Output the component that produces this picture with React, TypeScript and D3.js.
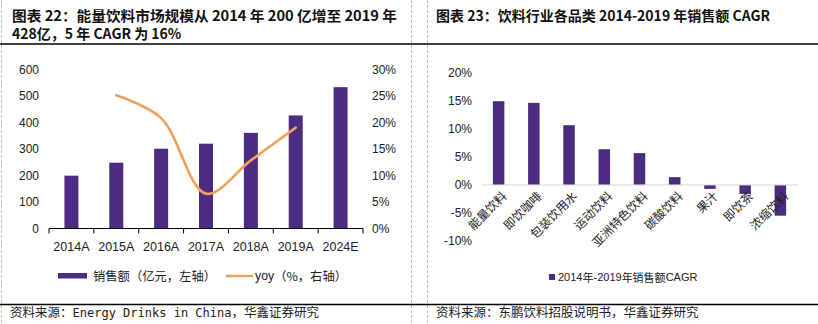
import React from "react";
import * as d3 from "d3";

const years = ["2014A", "2015A", "2016A", "2017A", "2018A", "2019A", "2024E"];
const sales = [200, 249, 302, 321, 362, 428, 535];
const yoyYears = ["2015A", "2016A", "2017A", "2018A", "2019A"];
const yoy = [25.2, 20.9, 6.6, 12.9, 19.1];
const leftTicks = [0, 100, 200, 300, 400, 500, 600];
const rightTicks = [0, 5, 10, 15, 20, 25, 30];

const categories = ["能量饮料", "即饮咖啡", "包装饮用水", "运动饮料", "亚洲特色饮料", "碳酸饮料", "果汁", "即饮茶", "浓缩饮料"];
const cagr = [15.0, 14.7, 10.7, 6.4, 5.7, 1.4, -0.7, -1.6, -5.5];
const cagrTicks = [-10, -5, 0, 5, 10, 15, 20];

const PURPLE = "#4b2c80";
const ORANGE = "#f0a05c";
const SANS = "'Liberation Sans', Arial, sans-serif";
const CJK = "'Noto Sans CJK SC', sans-serif";
const MONO = "'DejaVu Sans Mono', monospace";

export default function App() {
  const xL = d3.scaleBand<string>().domain(years).range([49, 363]);
  const yL = d3.scaleLinear().domain([0, 600]).range([228.5, 70]);
  const yR = d3.scaleLinear().domain([0, 30]).range([228.5, 70]);
  const bwL = 14;
  const line = d3
    .line<number>()
    .x((_, i) => (xL(yoyYears[i]) as number) + xL.bandwidth() / 2)
    .y((d) => yR(d))
    .curve(d3.curveCatmullRom.alpha(0.5));

  const xC = d3.scaleBand<string>().domain(categories).range([481, 798]);
  const yC = d3.scaleLinear().domain([-10, 20]).range([240.8, 73.3]);
  const bwC = 11.5;

  const boundaries = d3.range(years.length + 1).map((i) => 49 + i * xL.bandwidth());

  return (
    <svg width={818} height={324} style={{ position: "absolute", left: 0, top: 0, background: "#fff" }}>
      <rect x={0} y={0} width={818} height={324} fill="#fff" />
      {[1.5, 411.5, 427.5].map((x) => (
        <line key={x} x1={x} x2={x} y1={0} y2={324} stroke="#bdbdbd" strokeDasharray="3,2" strokeWidth={1} />
      ))}
      <line x1={0} x2={818} y1={44} y2={44} stroke="#000" strokeWidth={1.6} />
      <line x1={0} x2={818} y1={304.5} y2={304.5} stroke="#000" strokeWidth={1.6} />

      {/* Titles */}
      <text x={12} y={20.5} fontFamily={CJK} fontWeight="bold" fontSize={14} fill="#111" textLength={385} lengthAdjust="spacingAndGlyphs">
        图表 22：能量饮料市场规模从 2014 年 200 亿增至 2019 年
      </text>
      <text x={12} y={39} fontFamily={CJK} fontWeight="bold" fontSize={14} fill="#111">
        428亿，5 年 CAGR 为 16%
      </text>
      <text x={436} y={20.5} fontFamily={CJK} fontWeight="bold" fontSize={14} fill="#111">
        图表 23：饮料行业各品类 2014-2019 年销售额 CAGR
      </text>

      {/* Sources */}
      <text x={10} y={317} fontFamily={CJK} fontSize={12.5} fill="#222">
        资料来源：<tspan fontFamily={MONO} fontSize={12}>Energy Drinks in China</tspan>，华鑫证券研究
      </text>
      <text x={436} y={317} fontFamily={CJK} fontSize={12.5} fill="#222">
        资料来源：东鹏饮料招股说明书，华鑫证券研究
      </text>

      {/* ===== Left chart ===== */}
      {leftTicks.map((t) => (
        <text key={"l" + t} x={39} y={yL(t)} textAnchor="end" dominantBaseline="central" fontFamily={SANS} fontSize={12} fill="#222">
          {t}
        </text>
      ))}
      {rightTicks.map((t) => (
        <text key={"r" + t} x={372} y={yR(t)} textAnchor="start" dominantBaseline="central" fontFamily={SANS} fontSize={12} fill="#222">
          {t + "%"}
        </text>
      ))}
      {years.map((y, i) => (
        <rect
          key={y}
          x={(xL(y) as number) + xL.bandwidth() / 2 - bwL / 2}
          y={yL(sales[i])}
          width={bwL}
          height={yL(0) - yL(sales[i])}
          fill={PURPLE}
        />
      ))}
      <line x1={49} x2={363} y1={yL(0)} y2={yL(0)} stroke="#000" strokeWidth={1} />
      {boundaries.map((b, i) => (
        <line key={"tk" + i} x1={b} x2={b} y1={yL(0)} y2={yL(0) + 5} stroke="#000" strokeWidth={1} />
      ))}
      {years.map((y) => (
        <text key={"xl" + y} x={(xL(y) as number) + xL.bandwidth() / 2} y={247} textAnchor="middle" dominantBaseline="central" fontFamily={SANS} fontSize={12.5} fill="#222">
          {y}
        </text>
      ))}
      <path d={line(yoy) as string} fill="none" stroke={ORANGE} strokeWidth={2.6} strokeLinecap="round" />

      {/* Left legend */}
      <rect x={58} y={273} width={29} height={5.5} fill={PURPLE} />
      <text x={93} y={276} dominantBaseline="central" fontFamily={CJK} fontSize={12.3} fill="#222">
        销售额（亿元，左轴）
      </text>
      <line x1={226} x2={253} y1={276} y2={276} stroke={ORANGE} strokeWidth={2.5} />
      <text x={255} y={276} dominantBaseline="central" fontFamily={CJK} fontSize={12.3} fill="#222" textLength={92} lengthAdjust="spacing">
        <tspan fontFamily={SANS}>yoy</tspan>（%，右轴）
      </text>

      {/* ===== Right chart ===== */}
      {cagrTicks.map((t) => (
        <text key={"c" + t} x={472} y={yC(t)} textAnchor="end" dominantBaseline="central" fontFamily={SANS} fontSize={12} fill="#222">
          {t + "%"}
        </text>
      ))}
      {categories.map((c, i) => (
        <rect
          key={c}
          x={(xC(c) as number) + xC.bandwidth() / 2 - bwC / 2}
          y={Math.min(yC(cagr[i]), yC(0))}
          width={bwC}
          height={Math.abs(yC(cagr[i]) - yC(0))}
          fill={PURPLE}
        />
      ))}
      <line x1={481} x2={798} y1={yC(0)} y2={yC(0)} stroke="#d9d9d9" strokeWidth={1} />
      {categories.map((c) => {
        const cx = (xC(c) as number) + xC.bandwidth() / 2;
        return (
          <text
            key={"cx" + c}
            transform={`translate(${cx + 5},${193}) rotate(-45)`}
            textAnchor="end"
            dominantBaseline="central"
            fontFamily={CJK}
            fontSize={12}
            fill="#222"
          >
            {c}
          </text>
        );
      })}
      <rect x={549} y={274} width={6} height={6} fill={PURPLE} />
      <text x={558} y={277} dominantBaseline="central" fontFamily={CJK} fontSize={11} fill="#222">
        <tspan fontFamily={SANS}>2014</tspan>年<tspan fontFamily={SANS}>-2019</tspan>年销售额<tspan fontFamily={SANS}>CAGR</tspan>
      </text>
    </svg>
  );
}
